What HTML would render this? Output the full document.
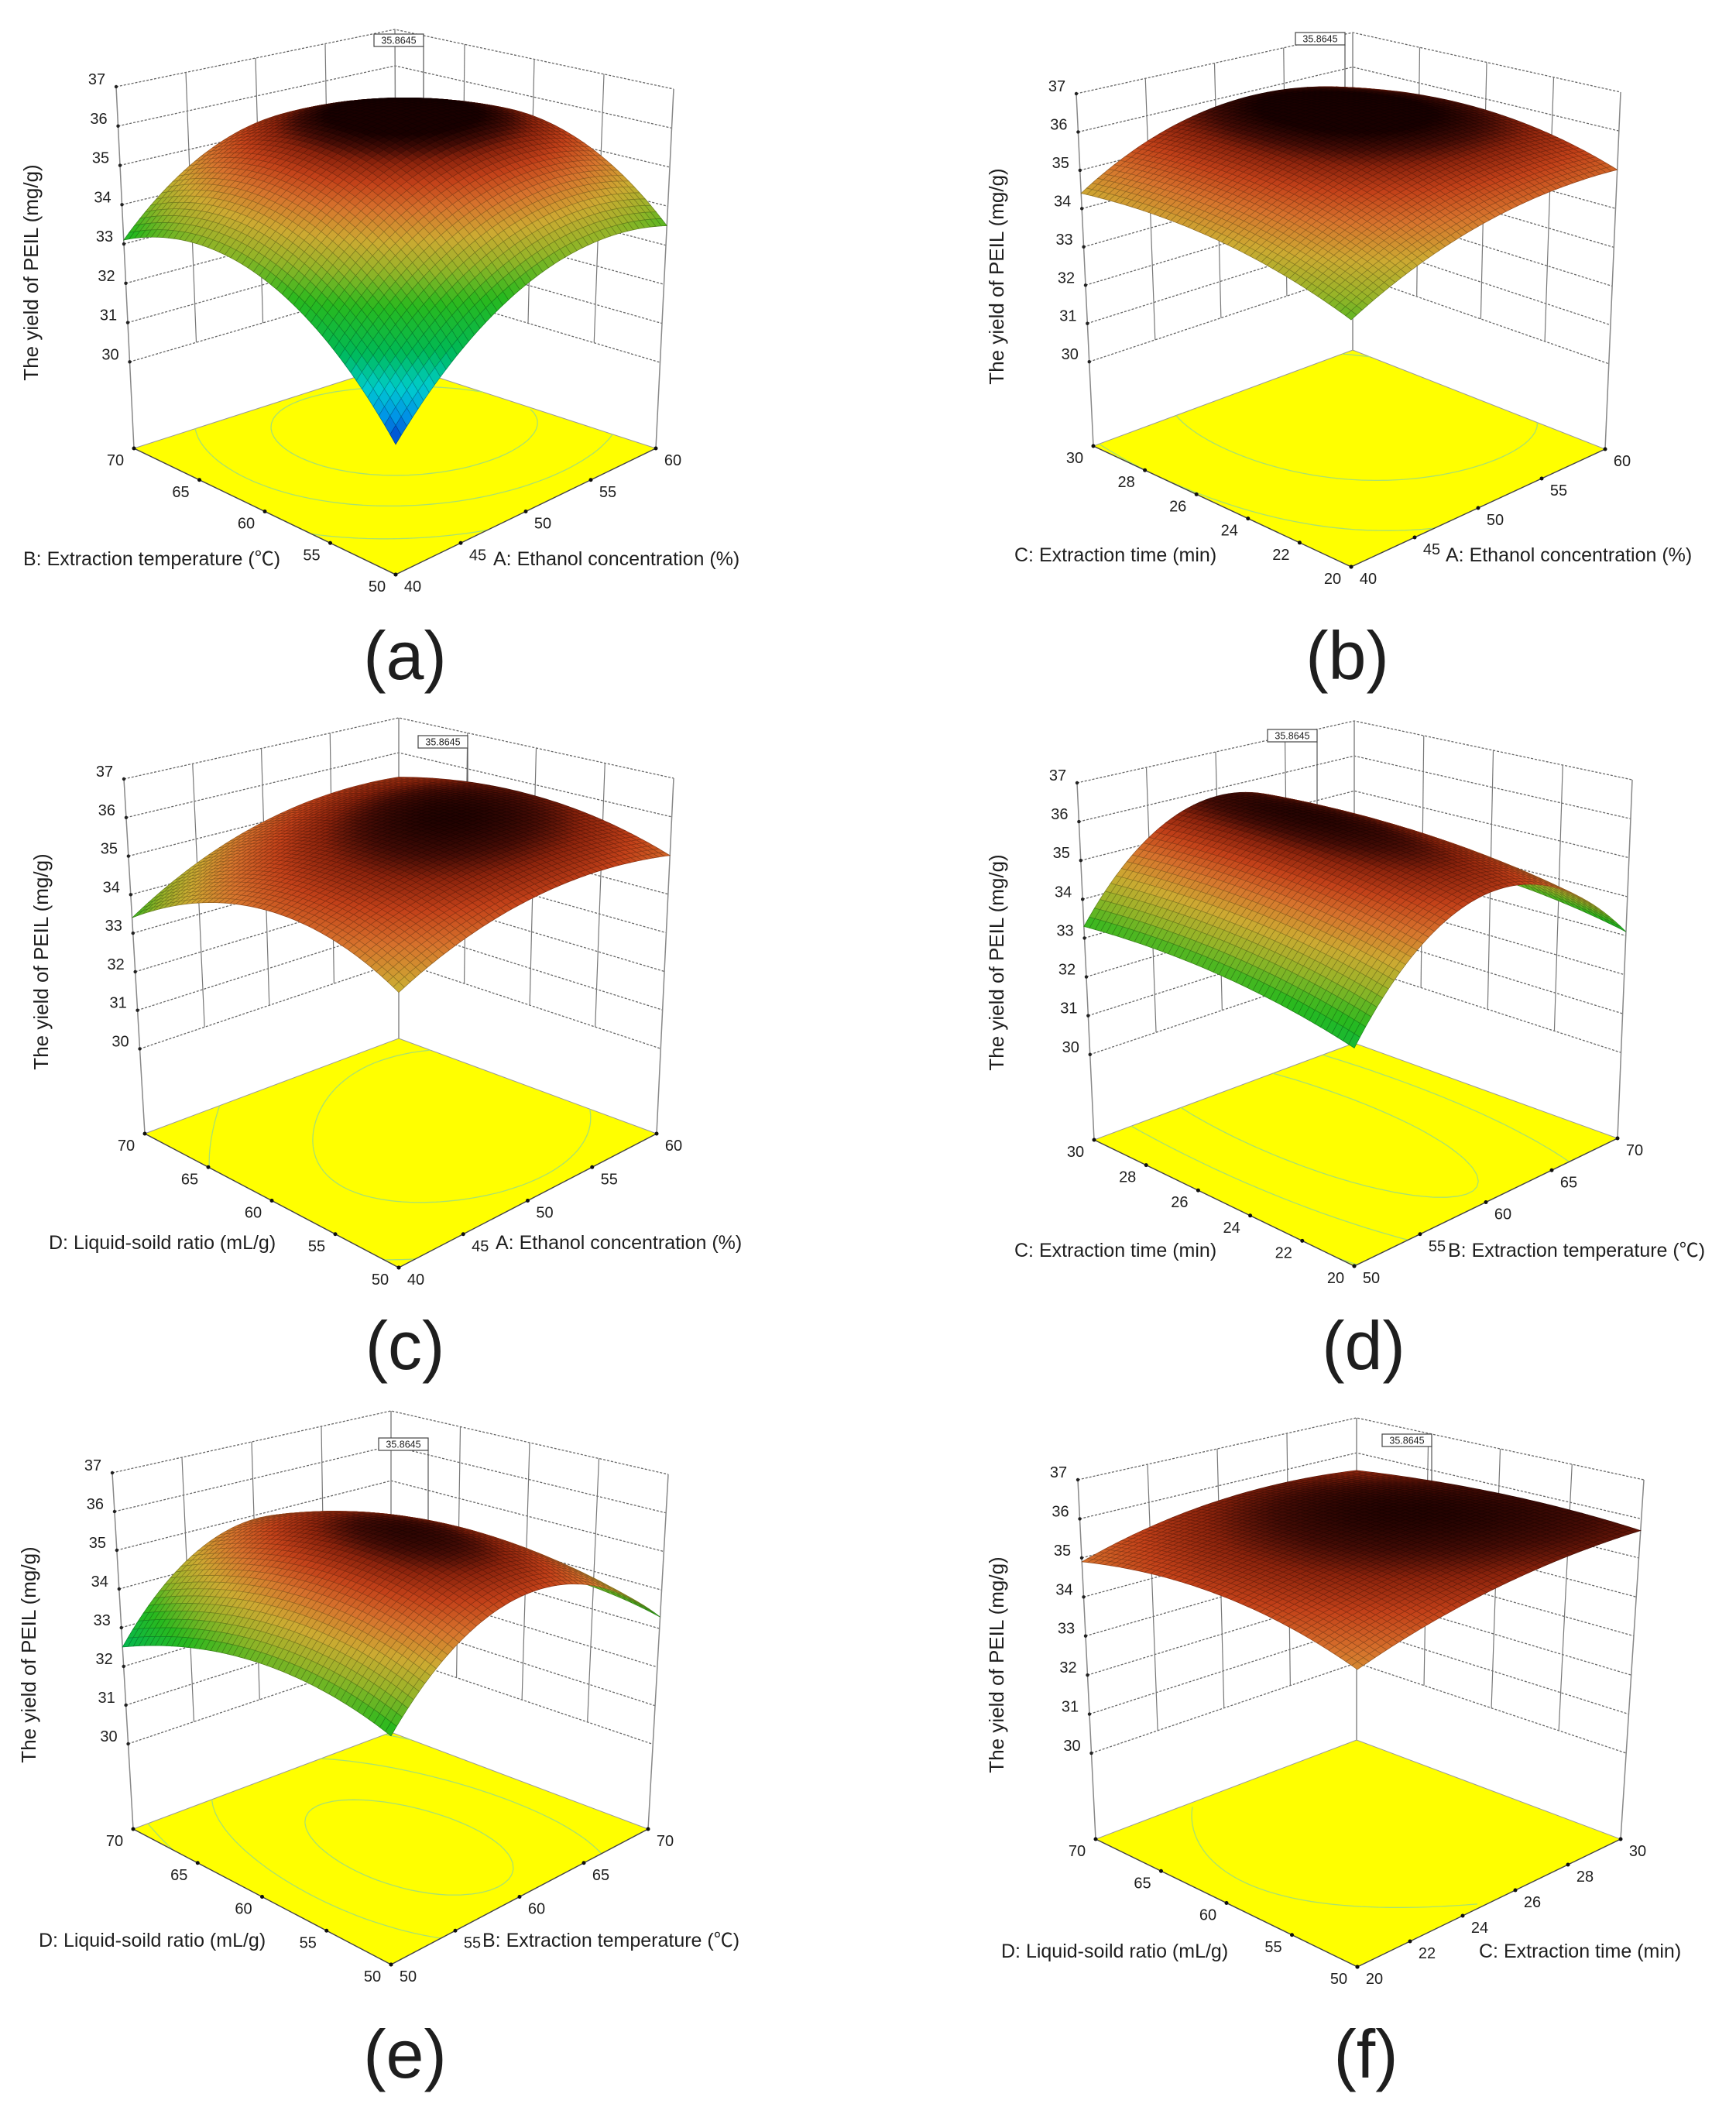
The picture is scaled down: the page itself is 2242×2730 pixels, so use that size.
<!DOCTYPE html>
<html><head><meta charset="utf-8">
<style>
html,body{margin:0;padding:0;background:#fff}
svg{display:block}
text{font-family:"Liberation Sans","Noto Sans CJK SC",sans-serif;fill:#1e1e1e}
</style></head>
<body>
<svg id="fig" width="2242" height="2730" viewBox="0 0 2242 2730" xmlns="http://www.w3.org/2000/svg"></svg>
<script>
// ---- data ----
const zTicks=[30,31,32,33,34,35,36,37];
const ticksEthanol=[40,45,50,55,60];
const ticksTemp=[50,55,60,65,70];
const ticksTime=[20,22,24,26,28,30];
const ticksRatio=[50,55,60,65,70];
// surface values at 3x3 design points: grid[uIndex][vIndex] (low, center, high)
const gridA=[[30.9,33.6,33.1],[33.5,35.86,35.3],[33.5,35.5,34.5]];
const gridB=[[33.6,34.4,34.4],[34.8,35.86,35.8],[35.0,35.7,35.4]];
const gridC=[[34.3,35.0,33.4],[35.3,35.86,35.0],[35.0,35.7,35.3]];
const gridD=[[32.9,33.4,33.3],[35.4,35.86,35.8],[33.1,33.6,33.5]];
const gridE=[[33.2,33.6,32.5],[35.3,35.86,34.9],[33.3,33.6,32.8]];
const gridF=[[34.7,35.3,34.9],[35.5,35.86,35.6],[35.7,35.8,35.5]];
const contourLevels=[33,34.5,35.5];
const maxLabel="35.8645";
const panelTags=["(a)","(b)","(c)","(d)","(e)","(f)"];

// ---- layout (positions only) ----
const ZF=27.8, ZT=37;
const panels=[
 {tag:0,grid:gridA,uT:ticksEthanol,vT:ticksTemp,uTitle:"A: Ethanol concentration (%)",vTitle:"B: Extraction temperature (℃)",
  F:[511,742],L:[173,579],R:[847,579],B:[512,470],LT:[150,112],RT:[870,115],BT:[510,38],
  uPos:[637,722],vPos:[30,722],yt:[40,352],box:[483,44],tagPos:[523,877]},
 {tag:1,grid:gridB,uT:ticksEthanol,vT:ticksTime,uTitle:"A: Ethanol concentration (%)",vTitle:"C: Extraction time (min)",
  F:[1745,732],L:[1412,576],R:[2073,580],B:[1747,452],LT:[1390,121],RT:[2093,119],BT:[1747,42],
  uPos:[1867,717],vPos:[1310,717],yt:[1287,357],box:[1673,42],tagPos:[1740,877]},
 {tag:2,grid:gridC,uT:ticksEthanol,vT:ticksRatio,uTitle:"A: Ethanol concentration (%)",vTitle:"D: Liquid-soild ratio (mL/g)",
  F:[515,1637],L:[187,1464],R:[848,1464],B:[515,1341],LT:[160,1006],RT:[870,1005],BT:[515,927],
  uPos:[640,1605],vPos:[63,1605],yt:[53,1242],box:[540,950],tagPos:[523,1768]},
 {tag:3,grid:gridD,uT:ticksTemp,vT:ticksTime,uTitle:"B: Extraction temperature (℃)",vTitle:"C: Extraction time (min)",
  F:[1749,1635],L:[1413,1472],R:[2089,1470],B:[1749,1347],LT:[1391,1011],RT:[2108,1007],BT:[1749,931],
  uPos:[1870,1615],vPos:[1310,1615],yt:[1287,1243],box:[1637,942],tagPos:[1761,1768]},
 {tag:4,grid:gridE,uT:ticksTemp,vT:ticksRatio,uTitle:"B: Extraction temperature (℃)",vTitle:"D: Liquid-soild ratio (mL/g)",
  F:[505,2537],L:[172,2362],R:[837,2362],B:[505,2237],LT:[145,1902],RT:[863,1904],BT:[505,1822],
  uPos:[623,2506],vPos:[50,2506],yt:[37,2137],box:[489,1857],tagPos:[523,2683]},
 {tag:5,grid:gridF,uT:ticksTime,vT:ticksRatio,uTitle:"C: Extraction time (min)",vTitle:"D: Liquid-soild ratio (mL/g)",
  F:[1753,2540],L:[1415,2375],R:[2093,2375],B:[1752,2247],LT:[1392,1911],RT:[2123,1911],BT:[1752,1831],
  uPos:[1910,2520],vPos:[1293,2520],yt:[1287,2150],box:[1785,1852],tagPos:[1764,2683]}
];

const NS="http://www.w3.org/2000/svg";
const svg=document.getElementById('fig');
function mk(tag,attrs,parent){const el=document.createElementNS(NS,tag);for(const k in attrs)el.setAttribute(k,attrs[k]);(parent||svg).appendChild(el);return el;}
function bil(F,R,L,B,u,v){return [F[0]*(1-u)*(1-v)+R[0]*u*(1-v)+L[0]*(1-u)*v+B[0]*u*v, F[1]*(1-u)*(1-v)+R[1]*u*(1-v)+L[1]*(1-u)*v+B[1]*u*v];}
function proj(g,u,v,z){const f=bil(g.F,g.R,g.L,g.B,u,v);const t=bil(g.FT,g.RT,g.LT,g.BT,u,v);const s=(z-ZF)/(ZT-ZF);return [f[0]+(t[0]-f[0])*s,f[1]+(t[1]-f[1])*s];}
function lag(t){return [2*(t-0.5)*(t-1),-4*t*(t-1),2*t*(t-0.5)];}
function surf(grid,u,v){const a=lag(u),b=lag(v);let s=0;for(let i=0;i<3;i++)for(let j=0;j<3;j++)s+=a[i]*b[j]*grid[i][j];return s;}
const stops=[[30.8,[0,40,200]],[31.4,[0,150,230]],[31.9,[0,205,205]],[32.5,[0,185,85]],[33.3,[40,185,30]],[33.9,[150,180,40]],[34.4,[205,170,50]],[34.9,[215,115,45]],[35.3,[195,65,25]],[35.6,[140,35,12]],[35.78,[70,12,5]],[35.95,[25,0,0]]];
function col(z,k){let c=stops[0][1];if(z>=stops[stops.length-1][0])c=stops[stops.length-1][1];else for(let i=0;i<stops.length-1;i++){if(z>=stops[i][0]&&z<stops[i+1][0]){const t=(z-stops[i][0])/(stops[i+1][0]-stops[i][0]);c=stops[i][1].map((x,n)=>x+(stops[i+1][1][n]-x)*t);break;}}
 return 'rgb('+c.map(x=>Math.round(x*k)).join(',')+')';}
function pts(a){return a.map(p=>p[0].toFixed(1)+','+p[1].toFixed(1)).join(' ');}

panels.forEach(function(g){
 const hf=(g.L[1]-g.LT[1])+(g.R[1]-g.RT[1])-(g.B[1]-g.BT[1]);
 g.FT=[g.F[0],g.F[1]-hf];
 const grp=mk('g',{});
 
 
 zTicks.forEach(function(z){
  const l=mk('polyline',{points:pts([proj(g,0,1,z),proj(g,1,1,z),proj(g,1,0,z)]),fill:'none',stroke:'#666','stroke-width':1.3,'stroke-dasharray':'3,2'},grp);
  
  
 });
 [0.25,0.5,0.75].forEach(function(t){
  const l1=mk('line',{x1:proj(g,t,1,30)[0],y1:proj(g,t,1,30)[1],x2:proj(g,t,1,ZT)[0],y2:proj(g,t,1,ZT)[1],stroke:'#777','stroke-width':1.2},grp);
  
  
  const l2=mk('line',{x1:proj(g,1,t,30)[0],y1:proj(g,1,t,30)[1],x2:proj(g,1,t,ZT)[0],y2:proj(g,1,t,ZT)[1],stroke:'#777','stroke-width':1.2},grp);
  
  
 });
 [[0,1],[1,1],[1,0]].forEach(function(c){
  const e=mk('line',{x1:proj(g,c[0],c[1],ZF)[0],y1:proj(g,c[0],c[1],ZF)[1],x2:proj(g,c[0],c[1],ZT)[0],y2:proj(g,c[0],c[1],ZT)[1],stroke:'#888','stroke-width':1.5},grp);
  
  
 });
 zTicks.forEach(function(z){
  const p=proj(g,0,1,z);
  const d=mk('circle',{cx:p[0],cy:p[1],r:2.2,fill:'#222'},grp);
  
  
  const t=mk('text',{x:p[0]-25,y:p[1]-9,'font-size':20,'text-anchor':'middle','dominant-baseline':'central'},grp);
  t.textContent=z;
  
  
 });
 const yt=mk('text',{x:g.yt[0],y:g.yt[1],'font-size':26,'text-anchor':'middle','dominant-baseline':'central',transform:'rotate(-90 '+g.yt[0]+' '+g.yt[1]+')'},grp);
 yt.textContent='The yield of PEIL (mg/g)';
 
 
 const fl=mk('polygon',{points:pts([proj(g,0,0,ZF),proj(g,1,0,ZF),proj(g,1,1,ZF),proj(g,0,1,ZF)]),fill:'#ffff00',stroke:'#999','stroke-width':1},grp);
 
 
 const N=40;const vals=[];
 for(let i=0;i<=N;i++){vals.push([]);for(let j=0;j<=N;j++)vals[i].push(surf(g.grid,i/N,j/N));}
 contourLevels.forEach(function(lv){
  let d='';
  for(let i=0;i<N;i++)for(let j=0;j<N;j++){
   const c=[[i,j],[i+1,j],[i+1,j+1],[i,j+1]];const cr=[];
   for(let k=0;k<4;k++){const a=c[k],b=c[(k+1)%4];const va=vals[a[0]][a[1]],vb=vals[b[0]][b[1]];
    if((va-lv)*(vb-lv)<0){const t=(lv-va)/(vb-va);cr.push(proj(g,(a[0]+(b[0]-a[0])*t)/N,(a[1]+(b[1]-a[1])*t)/N,ZF));}}
   for(let k=0;k+1<cr.length;k+=2)d+='M'+cr[k][0].toFixed(1)+' '+cr[k][1].toFixed(1)+'L'+cr[k+1][0].toFixed(1)+' '+cr[k+1][1].toFixed(1);
  }
  if(d){const p=mk('path',{d:d,stroke:'#a8e070','stroke-width':1.3,fill:'none'},grp);
   
   }
 });
 const e1=mk('polyline',{points:pts([proj(g,0,1,ZF),proj(g,0,0,ZF),proj(g,1,0,ZF)]),fill:'none',stroke:'#444','stroke-width':1.4},grp);
 
 
 const uMin=g.uT[0],uMax=g.uT[g.uT.length-1],vMin=g.vT[0],vMax=g.vT[g.vT.length-1];
 g.uT.forEach(function(val){
  const p=proj(g,(val-uMin)/(uMax-uMin),0,ZF);
  const d=mk('circle',{cx:p[0],cy:p[1],r:2.5,fill:'#111'},grp);
  
  
  const t=mk('text',{x:p[0]+22,y:p[1]+16,'font-size':20,'text-anchor':'middle','dominant-baseline':'central'},grp);
  t.textContent=val;
  
  
 });
 g.vT.forEach(function(val){
  const p=proj(g,0,(val-vMin)/(vMax-vMin),ZF);
  const d=mk('circle',{cx:p[0],cy:p[1],r:2.5,fill:'#111'},grp);
  
  
  const t=mk('text',{x:p[0]-24,y:p[1]+16,'font-size':20,'text-anchor':'middle','dominant-baseline':'central'},grp);
  t.textContent=val;
  
  
 });
 const bx=g.box[0]+64;
 const cp=proj(g,0.5,0.5,35.86);
 const ll=mk('line',{x1:bx,y1:g.box[1]+16,x2:bx,y2:cp[1],stroke:'#555','stroke-width':1.2},grp);
 
 
 const M=48;const cells=[];
 for(let i=0;i<M;i++)for(let j=0;j<M;j++)cells.push([i,j]);
 cells.sort((a,b)=>(b[0]+b[1])-(a[0]+a[1]));
 const sg=mk('g',{},grp);
 
 
 cells.forEach(function(c){
  const i=c[0],j=c[1];
  const cs=[[i,j],[i+1,j],[i+1,j+1],[i,j+1]].map(q=>[q[0]/M,q[1]/M,surf(g.grid,q[0]/M,q[1]/M)]);
  const zm=(cs[0][2]+cs[1][2]+cs[2][2]+cs[3][2])/4;
  const q=mk('polygon',{points:pts(cs.map(p=>proj(g,p[0],p[1],p[2]))),fill:col(zm,1),stroke:col(zm,0.7),'stroke-width':0.7},sg);
  
  
 });
 const rb=mk('rect',{x:g.box[0],y:g.box[1],width:64,height:16,fill:'#fff',stroke:'#444','stroke-width':1.2},grp);
 
 
 const rt=mk('text',{x:g.box[0]+32,y:g.box[1]+8.5,'font-size':12.5,'text-anchor':'middle','dominant-baseline':'central'},grp);
 rt.textContent=maxLabel;
 
 
 const ut=mk('text',{x:g.uPos[0],y:g.uPos[1],'font-size':25,'dominant-baseline':'central'},grp);
 ut.textContent=g.uTitle;
 
 
 const vt=mk('text',{x:g.vPos[0],y:g.vPos[1],'font-size':25,'dominant-baseline':'central'},grp);
 vt.textContent=g.vTitle;
 
 
 const tg=mk('text',{x:g.tagPos[0],y:g.tagPos[1],'font-size':88,'text-anchor':'middle'},grp);
 tg.textContent=panelTags[g.tag];
 
 
});
</script>
</body></html>
